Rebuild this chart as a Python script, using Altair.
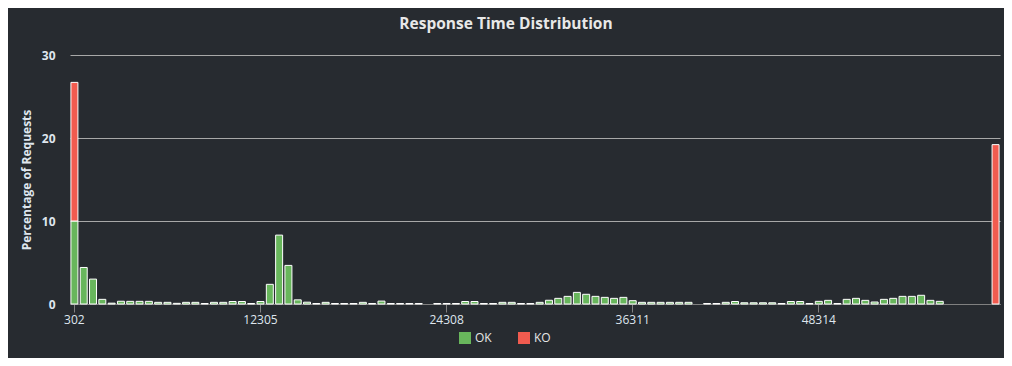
import altair as alt
import pandas as pd

# Percentage of requests per response-time bucket
ok_values = [
    10.0, 4.4, 3.0, 0.56, 0.1, 0.33, 0.32, 0.32, 0.32, 0.2,
    0.2, 0.08, 0.2, 0.2, 0.06, 0.2, 0.2, 0.3, 0.3, 0.06,
    0.3, 2.37, 8.3, 4.65, 0.5, 0.22, 0.06, 0.2, 0.06, 0.06,
    0.06, 0.2, 0.06, 0.35, 0.06, 0.06, 0.06, 0.06, 0.0, 0.06,
    0.06, 0.06, 0.3, 0.3, 0.06, 0.06, 0.2, 0.2, 0.06, 0.06,
    0.2, 0.45, 0.68, 0.92, 1.4, 1.17, 0.92, 0.8, 0.68, 0.8,
    0.4, 0.2, 0.2, 0.2, 0.2, 0.2, 0.2, 0.0, 0.06, 0.06,
    0.2, 0.3, 0.15, 0.15, 0.15, 0.15, 0.06, 0.3, 0.3, 0.06,
    0.32, 0.44, 0.06, 0.56, 0.68, 0.44, 0.24, 0.56, 0.68, 0.92,
    0.92, 1.05, 0.44, 0.32, 0.0, 0.0, 0.0, 0.0, 0.0, 0.0,
]
ko_values = [16.7] + [0.0] * 98 + [19.2]

# Bucket labels (response time in ms): 302 .. 59717 in 100 buckets
bucket_first = 302
bucket_step = 12003 / 20
categories = [int(round(bucket_first + i * bucket_step)) for i in range(100)]
tick_labels = [302, 12305, 24308, 36311, 48314]

series_names = ["OK", "KO"]
series_colors = ["#68b65c", "#f15b4f"]

rows = []
for i, cat in enumerate(categories):
    if ok_values[i] > 0:
        rows.append({"time": cat, "status": "OK", "pct": ok_values[i], "ord": 0})
    if ko_values[i] > 0:
        rows.append({"time": cat, "status": "KO", "pct": ko_values[i], "ord": 1})
df = pd.DataFrame(rows)

font = "Open Sans"
bg = "#272b30"

chart = (
    alt.Chart(df)
    .mark_bar(stroke="white", strokeWidth=1)
    .encode(
        x=alt.X(
            "time:O",
            scale=alt.Scale(domain=categories, paddingInner=0.25, paddingOuter=0.1),
            axis=alt.Axis(
                values=tick_labels,
                labelAngle=0,
                title=None,
                domainColor="#808080",
                tickColor="#808080",
                tickSize=8,
                labelColor="#dfe6ee",
                labelFontSize=12,
                labelFont=font,
                labelPadding=2,
                grid=False,
            ),
        ),
        y=alt.Y(
            "pct:Q",
            stack="zero",
            scale=alt.Scale(domain=[0, 30]),
            axis=alt.Axis(
                values=[0, 10, 20, 30],
                title="Percentage of Requests",
                grid=True,
                gridColor="#a8a8a8",
                domain=False,
                ticks=False,
                labelColor="#dfe6ee",
                labelFont=font,
                labelFontSize=12,
                labelFontWeight="bold",
                labelPadding=15,
                titleColor="#dfe6ee",
                titleFont=font,
                titleFontSize=12,
                titleFontWeight="bold",
                titlePadding=8,
            ),
        ),
        color=alt.Color(
            "status:N",
            scale=alt.Scale(domain=series_names, range=series_colors),
            legend=alt.Legend(
                title=None,
                orient="none",
                legendX=389,
                legendY=277,
                direction="horizontal",
                symbolType="square",
                symbolSize=144,
                symbolStrokeWidth=0,
                labelColor="#e6e6e6",
                labelFont=font,
                labelFontSize=12,
                columnPadding=26,
                padding=0,
            ),
        ),
        order=alt.Order("ord:Q"),
    )
    .properties(
        width=930,
        height=249,
        padding={"left": 62, "top": 47, "right": 4, "bottom": 54},
        autosize=alt.AutoSizeParams(type="none"),
        title=alt.Title(
            "Response Time Distribution",
            color="#e8e8e8",
            font=font,
            fontSize=15.5,
            fontWeight="bold",
            anchor="middle",
            dx=-29,
            offset=17,
        ),
    )
    .configure(background=bg)
    .configure_view(strokeWidth=0)
)

chart.save("out.html", embed_options={"renderer": "svg", "actions": False})
